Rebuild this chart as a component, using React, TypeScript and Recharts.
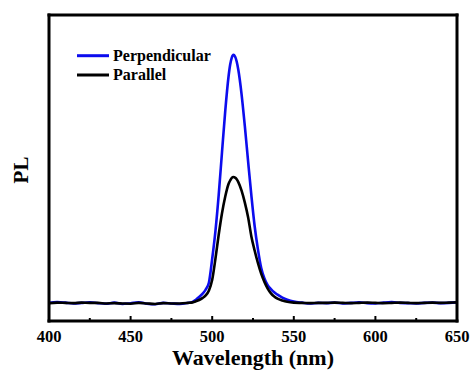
import React from "react";
import {
  LineChart,
  Line,
  XAxis,
  YAxis,
  Legend,
  Label,
} from "recharts";

// PL spectra, arbitrary units
const wavelength = [
  400, 405, 410, 415, 420, 425, 430, 435, 440, 445, 450, 455, 460, 465, 470,
  475, 480, 485, 488, 490, 492, 494, 496, 498, 500, 502, 504, 506, 508, 510,
  511, 512, 513, 514, 515, 516, 518, 520, 522, 524, 526, 528, 530, 532, 534,
  536, 538, 540, 543, 546, 550, 555, 560, 565, 570, 575, 580, 585, 590, 595,
  600, 605, 610, 615, 620, 625, 630, 635, 640, 645, 650,
];

const perpendicular = [
  0.068, 0.071, 0.069, 0.066, 0.068, 0.07, 0.067, 0.065, 0.069, 0.064, 0.067,
  0.07, 0.065, 0.063, 0.068, 0.066, 0.064, 0.068, 0.072, 0.08, 0.09, 0.102,
  0.118, 0.145, 0.234, 0.339, 0.475, 0.634, 0.79, 0.918, 0.963, 0.99, 1.0,
  0.994, 0.975, 0.944, 0.852, 0.732, 0.6, 0.472, 0.357, 0.27, 0.2, 0.16, 0.135,
  0.12, 0.108, 0.099, 0.088, 0.08, 0.073, 0.069, 0.066, 0.068, 0.067, 0.069,
  0.066, 0.068, 0.07, 0.067, 0.066, 0.069, 0.071, 0.068, 0.067, 0.066, 0.068,
  0.069, 0.067, 0.068, 0.07,
];

const parallel = [
  0.067, 0.069, 0.068, 0.067, 0.069, 0.068, 0.068, 0.066, 0.067, 0.066, 0.065,
  0.068, 0.066, 0.064, 0.067, 0.066, 0.066, 0.068, 0.07, 0.074, 0.079, 0.086,
  0.096, 0.115, 0.155, 0.235, 0.325, 0.405, 0.468, 0.515, 0.528, 0.538, 0.541,
  0.539, 0.533, 0.522, 0.49, 0.445, 0.39, 0.318, 0.265, 0.218, 0.178, 0.147,
  0.122, 0.104, 0.092, 0.084, 0.077, 0.072, 0.069, 0.068, 0.067, 0.068, 0.068,
  0.069, 0.068, 0.067, 0.068, 0.069, 0.068, 0.067, 0.068, 0.069, 0.068, 0.067,
  0.068, 0.069, 0.068, 0.069, 0.07,
];

const xTicks = [400, 425, 450, 475, 500, 525, 550, 575, 600, 625, 650];
const majorTicks = [400, 450, 500, 550, 600, 650];

const data = wavelength.map((w, i) => ({
  wavelength: w,
  perpendicular: perpendicular[i],
  parallel: parallel[i],
}));

const FONT = "'Liberation Serif', 'Times New Roman', serif";
const BLUE = "#0c0cee";
const frame = { stroke: "#000", strokeWidth: 3, strokeLinecap: "square" as const };
const serifBold = { fontFamily: FONT, fontWeight: 700 };

// labels only on the 50 nm ticks, short inward marks on the 25 nm ones
const WaveTick = (props: any) => {
  const { x, y, payload } = props;
  const major = majorTicks.includes(payload.value);
  const axisY = y - 9;
  return (
    <g>
      <line
        x1={x}
        x2={x}
        y1={axisY}
        y2={axisY - (major ? 5 : 3)}
        stroke="#000"
        strokeWidth={2}
      />
      {major && (
        <text
          x={x}
          y={y}
          dy="0.71em"
          textAnchor="middle"
          fontSize={16.5}
          fill="#000"
          style={serifBold}
        >
          {payload.value}
        </text>
      )}
    </g>
  );
};

const SpectraLegend = () => (
  <svg width={160} height={45} style={{ display: "block" }}>
    <line x1={7} x2={39} y1={13.7} y2={13.7} stroke={BLUE} strokeWidth={3} />
    <text x={43} y={18.5} fontSize={16} fill="#000" style={serifBold}>
      Perpendicular
    </text>
    <line x1={7} x2={39} y1={33} y2={33} stroke="#000" strokeWidth={3} />
    <text x={43} y={38} fontSize={16} fill="#000" style={serifBold}>
      Parallel
    </text>
  </svg>
);

export default function App() {
  return (
    <div style={{ position: "absolute", left: 0, top: 0, background: "#fff" }}>
      <LineChart
        width={470}
        height={371}
        data={data}
        margin={{ top: 14, right: 12, bottom: 0, left: 0 }}
      >
        <XAxis
          dataKey="wavelength"
          type="number"
          domain={[400, 650]}
          ticks={xTicks}
          interval={0}
          height={50}
          tickSize={0}
          tickMargin={9}
          tickLine={false}
          axisLine={frame}
          tick={<WaveTick />}
        >
          <Label
            value="Wavelength (nm)"
            position="insideBottom"
            offset={6}
            fontSize={22}
            fill="#000"
            style={serifBold}
          />
        </XAxis>
        <XAxis
          xAxisId="top"
          orientation="top"
          dataKey="wavelength"
          type="number"
          domain={[400, 650]}
          height={1}
          ticks={[]}
          tick={false}
          tickLine={false}
          axisLine={frame}
        />
        <YAxis
          type="number"
          domain={[0, 1.15]}
          width={49}
          tick={false}
          tickLine={false}
          axisLine={frame}
        >
          <Label
            value="PL"
            angle={-90}
            position="center"
            dx={-4}
            dy={2}
            fontSize={21}
            fill="#000"
            style={serifBold}
          />
        </YAxis>
        <YAxis
          yAxisId="right"
          orientation="right"
          type="number"
          domain={[0, 1.15]}
          width={1}
          ticks={[]}
          tick={false}
          tickLine={false}
          axisLine={frame}
        />
        <Legend
          layout="horizontal"
          verticalAlign="middle"
          align="center"
          wrapperStyle={{ left: 70, top: 42, width: 160 }}
          content={<SpectraLegend />}
        />
        <Line
          type="monotone"
          dataKey="perpendicular"
          stroke={BLUE}
          strokeWidth={2.6}
          dot={false}
          isAnimationActive={false}
        />
        <Line
          type="monotone"
          dataKey="parallel"
          stroke="#000"
          strokeWidth={2.6}
          dot={false}
          isAnimationActive={false}
        />
      </LineChart>
    </div>
  );
}
